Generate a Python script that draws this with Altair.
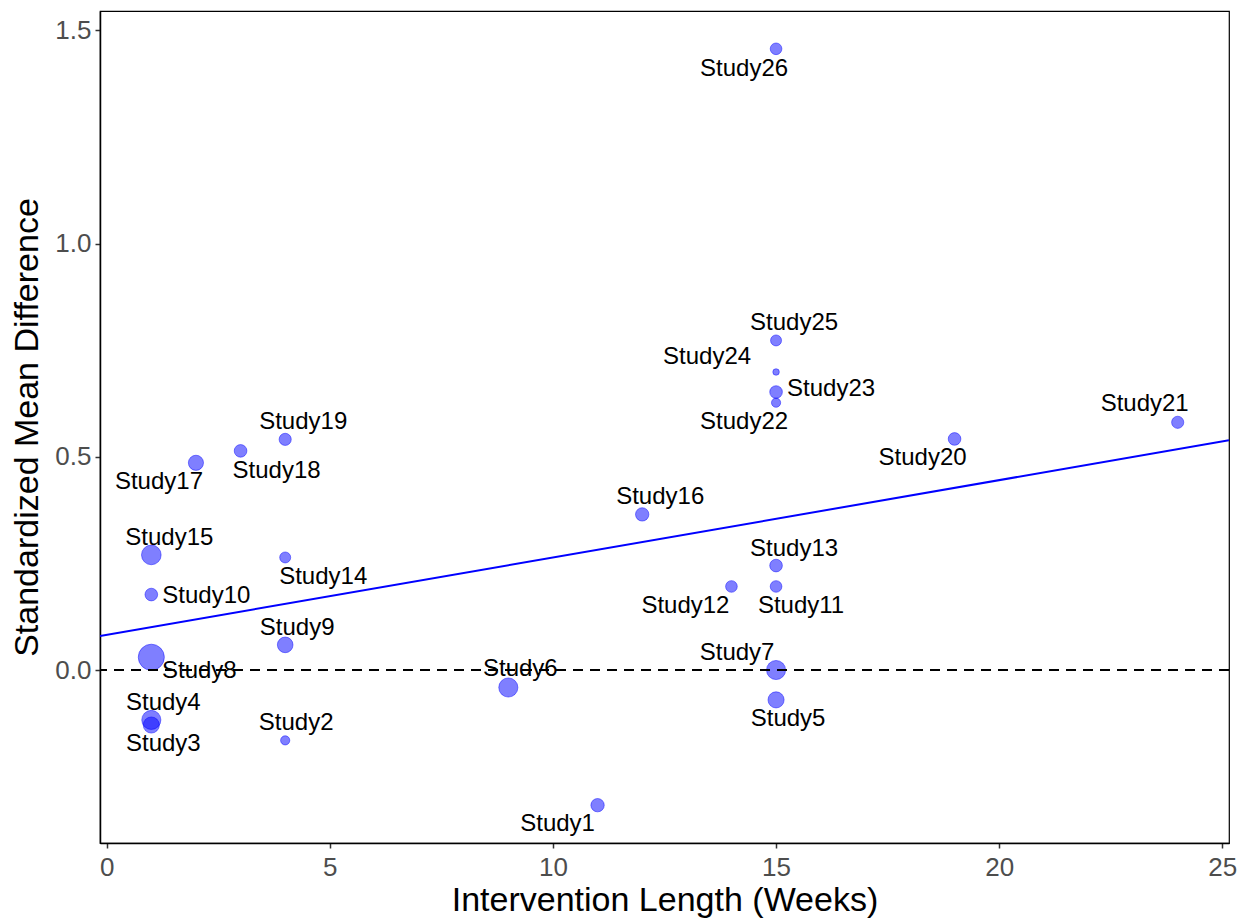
import altair as alt
import pandas as pd

# ---- data ----
studies = [f"Study{i}" for i in range(1, 27)]
weeks = [11, 4, 1, 1, 15, 9, 15, 1, 4, 1, 15, 14, 15, 4, 1, 12, 2, 3, 4, 19, 24, 15, 15, 15, 15, 15]
smd = [-0.317, -0.165, -0.129, -0.117, -0.070, -0.041, 0.000, 0.030, 0.059, 0.177,
       0.196, 0.196, 0.245, 0.264, 0.270, 0.365, 0.486, 0.514, 0.541, 0.542,
       0.581, 0.627, 0.652, 0.699, 0.773, 1.457]
weight = [59, 28, 86, 121, 86, 121, 121, 225, 81, 53, 45, 45, 53, 40, 128, 59, 76, 53, 49, 53,
          49, 28, 53, 14, 40, 45]
reg_intercept = 0.0824
reg_slope = 0.01815

# label offsets (pixels) from each point, as placed in the reference
label_dx = [-40, 11, 12, 12, 12, 12, -39, 48, 12, 55, 25, -46, 18, 38, 18, 18, -37, 36, 18, -32, -33, -32, 55, -69, 18, -32]
label_dy = [19, -17, 19, -17, 19, -19, -17, 14, -17, 1, 20, 20, -17, 20, -17, -17, 19, 20, -17, 19, -18, 19, -3, -15, -17, 20]

W, H = 1129, 832

xmin_d, xmax_d = min(weeks), max(weeks)
ymin_d, ymax_d = min(smd), max(smd)
xpad = (xmax_d - xmin_d) * 0.05
ypad = (ymax_d - ymin_d) * 0.05
xdom = [xmin_d - xpad, xmax_d + xpad]
ydom = [ymin_d - ypad, ymax_d + ypad]
ppx = W / (xdom[1] - xdom[0])
ppy = H / (ydom[1] - ydom[0])

df = pd.DataFrame({"study": studies, "weeks": weeks, "smd": smd, "weight": weight})
df["lx"] = [w + dx / ppx for w, dx in zip(weeks, label_dx)]
df["ly"] = [s - dy / ppy for s, dy in zip(smd, label_dy)]

line_df = pd.DataFrame({"weeks": xdom,
                        "smd": [reg_intercept + reg_slope * x for x in xdom]})
zero_df = pd.DataFrame({"y": [0.0]})

xs = alt.Scale(domain=xdom, nice=False, zero=False)
ys = alt.Scale(domain=ydom, nice=False, zero=False)

points = alt.Chart(df).mark_circle(
    fill="#0000FF", fillOpacity=0.5, stroke="#0000FF", strokeOpacity=0.45, strokeWidth=1
).encode(
    x=alt.X("weeks:Q", scale=xs,
            axis=alt.Axis(values=[0, 5, 10, 15, 20, 25], format="d",
                          title="Intervention Length (Weeks)")),
    y=alt.Y("smd:Q", scale=ys,
            axis=alt.Axis(values=[0, 0.5, 1.0, 1.5], format=".1f",
                          title="Standardized Mean Difference")),
    size=alt.Size("weight:Q", scale=alt.Scale(type="linear", domain=[0, 225], range=[0, 680]),
                  legend=None),
)

zero = alt.Chart(zero_df).mark_rule(color="black", strokeWidth=2, strokeDash=[10, 7]).encode(
    y=alt.Y("y:Q", scale=ys)
)

reg = alt.Chart(line_df).mark_line(color="#0000FF", strokeWidth=2, clip=True).encode(
    x=alt.X("weeks:Q", scale=xs), y=alt.Y("smd:Q", scale=ys)
)

labels = alt.Chart(df).mark_text(
    font="Liberation Sans", fontSize=24, color="black", align="center", baseline="middle"
).encode(
    x=alt.X("lx:Q", scale=xs), y=alt.Y("ly:Q", scale=ys), text="study:N"
)

chart = alt.layer(points, zero, reg, labels).properties(
    width=W, height=H,
    autosize=alt.AutoSizeParams(type="none"),
    padding={"left": 92, "top": 3, "right": 10, "bottom": 75},
).configure_view(
    stroke="black", strokeWidth=1.2
).configure_axis(
    grid=False,
    domainColor="black", domainWidth=1.5,
    tickColor="#333333", tickWidth=1.5, tickSize=5,
    labelFont="Liberation Sans", labelFontSize=26, labelColor="#4D4D4D", labelPadding=4,
    titleFont="Liberation Sans", titleFontSize=34, titleColor="black", titleFontWeight="normal",
).configure_axisX(titlePadding=3, labelPadding=6).configure_axisY(titlePadding=10)

chart.save("out.html", embed_options={"renderer": "svg", "actions": False})
